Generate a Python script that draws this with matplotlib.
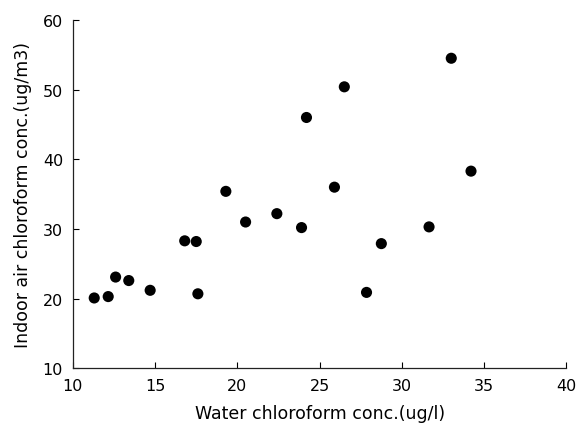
import matplotlib
matplotlib.use("Agg")
import matplotlib.pyplot as plt

# valeurs
water_conc = [11.3, 12.15, 12.6, 13.4, 14.7, 16.8, 17.5, 17.6, 19.3, 20.5,
              22.4, 23.9, 24.2, 25.9, 26.5, 27.85, 28.75, 31.65, 33.0, 34.2]
air_conc = [20.1, 20.3, 23.1, 22.6, 21.2, 28.3, 28.2, 20.7, 35.4, 31.0,
            32.2, 30.2, 46.0, 36.0, 50.4, 20.9, 27.9, 30.3, 54.5, 38.3]

x_ticks = [10, 15, 20, 25, 30, 35, 40]
y_ticks = [10, 20, 30, 40, 50, 60]

fig = plt.figure(figsize=(5.78, 4.27), dpi=100)
ax = fig.add_axes([0.126, 0.135, 0.854, 0.816])

ax.scatter(water_conc, air_conc, s=64, color="black", edgecolors="none", zorder=3)

ax.set_xlim(10, 40)
ax.set_ylim(10, 60)
ax.set_xticks(x_ticks)
ax.set_yticks(y_ticks)

for side in ["top", "right"]:
    ax.spines[side].set_visible(False)
for side in ["left", "bottom"]:
    ax.spines[side].set_linewidth(0.9)
    ax.spines[side].set_color("#222222")

ax.tick_params(direction="in", length=4, width=0.8, labelsize=11.5, pad=7)

ax.set_xlabel("Water chloroform conc.(ug/l)", fontsize=12.5, labelpad=8)
ax.set_ylabel("Indoor air chloroform conc.(ug/m3)", fontsize=12.5, labelpad=8)

fig.savefig("out.png", dpi=100)
